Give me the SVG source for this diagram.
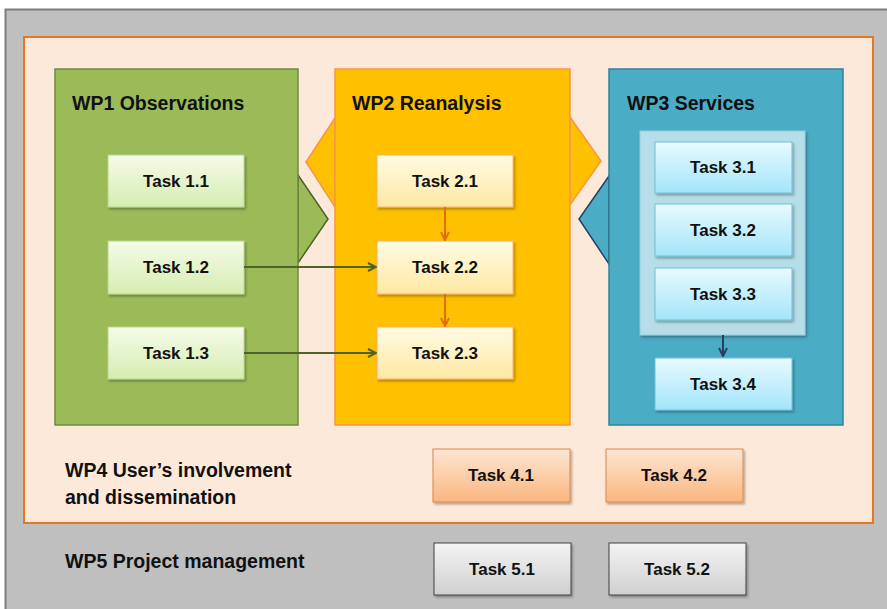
<svg xmlns="http://www.w3.org/2000/svg" width="887" height="609" viewBox="0 0 887 609">
<defs>
<linearGradient id="gG" x1="0" y1="0" x2="0" y2="1"><stop offset="0" stop-color="#f5fbea"/><stop offset="1" stop-color="#d5edb0"/></linearGradient>
<linearGradient id="gY" x1="0" y1="0" x2="0" y2="1"><stop offset="0" stop-color="#fffbe3"/><stop offset="1" stop-color="#ffe8a3"/></linearGradient>
<linearGradient id="gB" x1="0" y1="0" x2="0" y2="1"><stop offset="0" stop-color="#e8faff"/><stop offset="1" stop-color="#a3e5fb"/></linearGradient>
<linearGradient id="gO" x1="0" y1="0" x2="0" y2="1"><stop offset="0" stop-color="#fde6d3"/><stop offset="1" stop-color="#fbb67f"/></linearGradient>
<linearGradient id="gW" x1="0" y1="0" x2="0" y2="1"><stop offset="0" stop-color="#f4f4f4"/><stop offset="1" stop-color="#cfcfcf"/></linearGradient>
<filter id="sh" x="-10%" y="-10%" width="125%" height="130%"><feDropShadow dx="1.5" dy="2" stdDeviation="1.2" flood-color="#000" flood-opacity="0.3"/></filter>
<marker id="aG" viewBox="0 0 10 10" refX="9" refY="5" markerWidth="5" markerHeight="5" orient="auto"><path d="M1,1 L9,5 L1,9" fill="none" stroke="#4f6228" stroke-width="2"/></marker>
<marker id="aO" viewBox="0 0 10 10" refX="9" refY="5" markerWidth="5" markerHeight="5" orient="auto"><path d="M1,1 L9,5 L1,9" fill="none" stroke="#e46c0a" stroke-width="2"/></marker>
<marker id="aB" viewBox="0 0 10 10" refX="9" refY="5" markerWidth="5" markerHeight="5" orient="auto"><path d="M1,1 L9,5 L1,9" fill="none" stroke="#254061" stroke-width="2"/></marker>
</defs>
<style>
.t{font-family:"Liberation Sans",Arial,sans-serif;font-weight:bold;fill:#111}
.h{font-size:19.5px}
.k{font-size:17px;text-anchor:middle}
.tg{fill:url(#gG);stroke:#b7d68f;stroke-width:1;filter:url(#sh)}
.ty{fill:url(#gY);stroke:#f9b26b;stroke-width:1;filter:url(#sh)}
.tb{fill:url(#gB);stroke:#6cc1d6;stroke-width:1;filter:url(#sh)}
.to{fill:url(#gO);stroke:#d9884d;stroke-width:1;filter:url(#sh)}
.tw{fill:url(#gW);stroke:#404040;stroke-width:1;filter:url(#sh)}
</style>
<rect width="887" height="609" fill="#ffffff"/>
<g id="wp5">
<rect x="5.5" y="9.5" width="890" height="610" fill="#bfbfbf" stroke="#7f7f7f" stroke-width="2"/>
<text class="t h" x="65" y="568">WP5 Project management</text>
</g>
<g id="wp4">
<rect x="24" y="37" width="849" height="486" fill="#fde9d9" stroke="#e8761f" stroke-width="2"/>
<text class="t h" x="65" y="477">WP4 User’s involvement</text>
<text class="t h" x="65" y="504">and dissemination</text>
</g>
<g id="chevrons">
<polygon points="335,118 306,162 335,207" fill="#ffc000" stroke="#f79646" stroke-width="1.5"/>
<polygon points="298,175 328,219 298,263" fill="#9bbb59" stroke="#4f6228" stroke-width="1.5"/>
<polygon points="570,117 601,161 570,205" fill="#ffc000" stroke="#f79646" stroke-width="1.5"/>
<polygon points="609,176 579,219 609,264" fill="#4bacc6" stroke="#254061" stroke-width="1.5"/>
</g>
<g id="wp1">
<rect x="55" y="69" width="243" height="356" fill="#9bbb59" stroke="#71893f" stroke-width="1.5"/>
<text class="t h" x="72" y="110">WP1 Observations</text>
</g>
<g id="wp2">
<rect x="335" y="69" width="235" height="356" fill="#ffc000" stroke="#f79646" stroke-width="1.5"/>
<text class="t h" x="352" y="110">WP2 Reanalysis</text>
</g>
<g id="wp3">
<rect x="609" y="69" width="234" height="356" fill="#4bacc6" stroke="#31849b" stroke-width="1.5"/>
<text class="t h" x="627" y="110">WP3 Services</text>
<rect x="640" y="131" width="165" height="204" fill="#b7dde8" stroke="#93cddd" stroke-width="1" filter="url(#sh)"/>
</g>
<g id="task11"><rect class="tg" x="108" y="155" width="136" height="52"/><text class="t k" x="176" y="187">Task 1.1</text></g>
<g id="task12"><rect class="tg" x="108" y="241" width="136" height="53"/><text class="t k" x="176" y="273">Task 1.2</text></g>
<g id="task13"><rect class="tg" x="108" y="327" width="136" height="52"/><text class="t k" x="176" y="359">Task 1.3</text></g>
<g id="task21"><rect class="ty" x="377" y="155" width="136" height="52"/><text class="t k" x="445" y="187">Task 2.1</text></g>
<g id="task22"><rect class="ty" x="377" y="241" width="136" height="53"/><text class="t k" x="445" y="273">Task 2.2</text></g>
<g id="task23"><rect class="ty" x="377" y="327" width="136" height="52"/><text class="t k" x="445" y="359">Task 2.3</text></g>
<g id="task31"><rect class="tb" x="655" y="142" width="137" height="51"/><text class="t k" x="723" y="173">Task 3.1</text></g>
<g id="task32"><rect class="tb" x="655" y="204" width="137" height="52"/><text class="t k" x="723" y="236">Task 3.2</text></g>
<g id="task33"><rect class="tb" x="655" y="268" width="137" height="52"/><text class="t k" x="723" y="300">Task 3.3</text></g>
<g id="task34"><rect class="tb" x="655" y="358" width="137" height="52"/><text class="t k" x="723" y="390">Task 3.4</text></g>
<g id="task41"><rect class="to" x="433" y="449" width="137" height="53"/><text class="t k" x="501" y="481">Task 4.1</text></g>
<g id="task42"><rect class="to" x="606" y="449" width="137" height="53"/><text class="t k" x="674" y="481">Task 4.2</text></g>
<g id="task51"><rect class="tw" x="434" y="543" width="137" height="52"/><text class="t k" x="502" y="575">Task 5.1</text></g>
<g id="task52"><rect class="tw" x="609" y="543" width="137" height="52"/><text class="t k" x="677" y="575">Task 5.2</text></g>
<g id="connectors" fill="none" stroke-width="2">
<line x1="244" y1="267" x2="376" y2="267" stroke="#4f6228" marker-end="url(#aG)"/>
<line x1="244" y1="353" x2="376" y2="353" stroke="#4f6228" marker-end="url(#aG)"/>
<line x1="445" y1="207" x2="445" y2="240" stroke="#e46c0a" marker-end="url(#aO)"/>
<line x1="445" y1="294" x2="445" y2="326" stroke="#e46c0a" marker-end="url(#aO)"/>
<line x1="723" y1="335" x2="723" y2="356" stroke="#254061" marker-end="url(#aB)"/>
</g>
</svg>
